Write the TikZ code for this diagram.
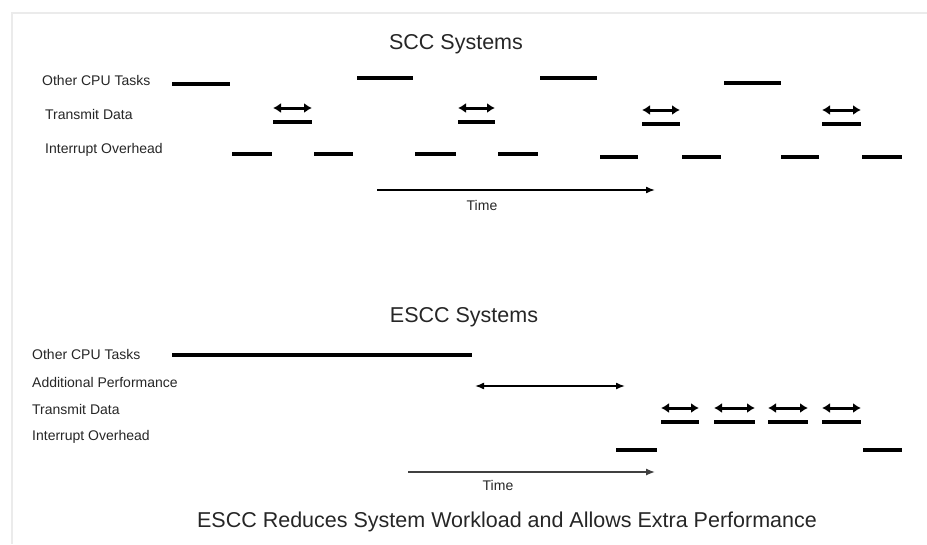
\documentclass[tikz,border=0pt]{standalone}
\usepackage{fontspec}
\setmainfont{Liberation Sans}
\usetikzlibrary{arrows.meta}

\begin{document}
\begin{tikzpicture}[x=1pt, y=-1pt, every node/.style={font=\fontsize{14}{16}\selectfont, inner sep=0pt, text=black!85},
	heading/.style={font=\fontsize{21.5}{24}\selectfont},
	bar/.style={line width=4pt},
	xfer/.style={line width=3pt, {Latex[length=8pt,width=10pt]}-{Latex[length=8pt,width=10pt]}},
	timeline/.style={line width=1.6pt, -{Latex[length=9pt,width=7pt]}}]
	\useasboundingbox (0,0) rectangle (927,544);
	\draw[black!8, line width=2pt] (12,544) -- (12,13) -- (927,13);
	% SCC
	\node[heading] (scc) at (456,44) {SCC Systems};
	\node[anchor=west] (scc-cpu) at (42,80) {Other CPU Tasks};
	\node[anchor=west] (scc-tx) at (45,114) {Transmit Data};
	\node[anchor=west] (scc-irq) at (45,150) {Interrupt Overhead};
	\foreach \a/\b/\y in {172/230/84, 357/413/78, 540/597/78, 724/781/83}
		\draw[bar] (\a,\y) -- (\b,\y);
	\foreach \a/\b/\y in {273/312/108, 458/495/108, 642/680/110, 822/861/110} {
		\draw[xfer] (\a,\y) -- (\b,\y);
		\draw[bar] (\a,\y+14) -- (\b,\y+14);
	}
	\foreach \a/\b/\y in {232/272/154, 314/353/154, 415/456/154, 498/538/154, 600/638/157, 682/721/157, 781/819/157, 862/902/157}
		\draw[bar] (\a,\y) -- (\b,\y);
	\draw[timeline] (377,190) -- (655,190);
	\node (scc-time) at (482,205) {Time};
	% ESCC
	\node[heading] (escc) at (464,317) {ESCC Systems};
	\node[anchor=west] (escc-cpu) at (32,354) {Other CPU Tasks};
	\node[anchor=west] (escc-perf) at (32,382) {Additional Performance};
	\node[anchor=west] (escc-tx) at (32,409) {Transmit Data};
	\node[anchor=west] (escc-irq) at (32,437) {Interrupt Overhead};
	\draw[bar] (172,355) -- (472,355);
	\draw[line width=1.5pt, {Latex[length=9pt,width=7pt]}-{Latex[length=9pt,width=7pt]}] (475,386) -- (625,386);
	\foreach \a/\b in {661/699, 714/755, 768/808, 822/861} {
		\draw[xfer] (\a,408) -- (\b,408);
		\draw[bar] (\a,422) -- (\b,422);
	}
	\foreach \a/\b in {616/657, 863/902}
		\draw[bar] (\a,450) -- (\b,450);
	\draw[timeline, black!75, line width=1.3pt] (408,472) -- (655,472);
	\node (escc-time) at (498,485) {Time};
	\node[heading] (caption) at (507,522) {ESCC Reduces System Workload and Allows Extra Performance};
\end{tikzpicture}
\end{document}
